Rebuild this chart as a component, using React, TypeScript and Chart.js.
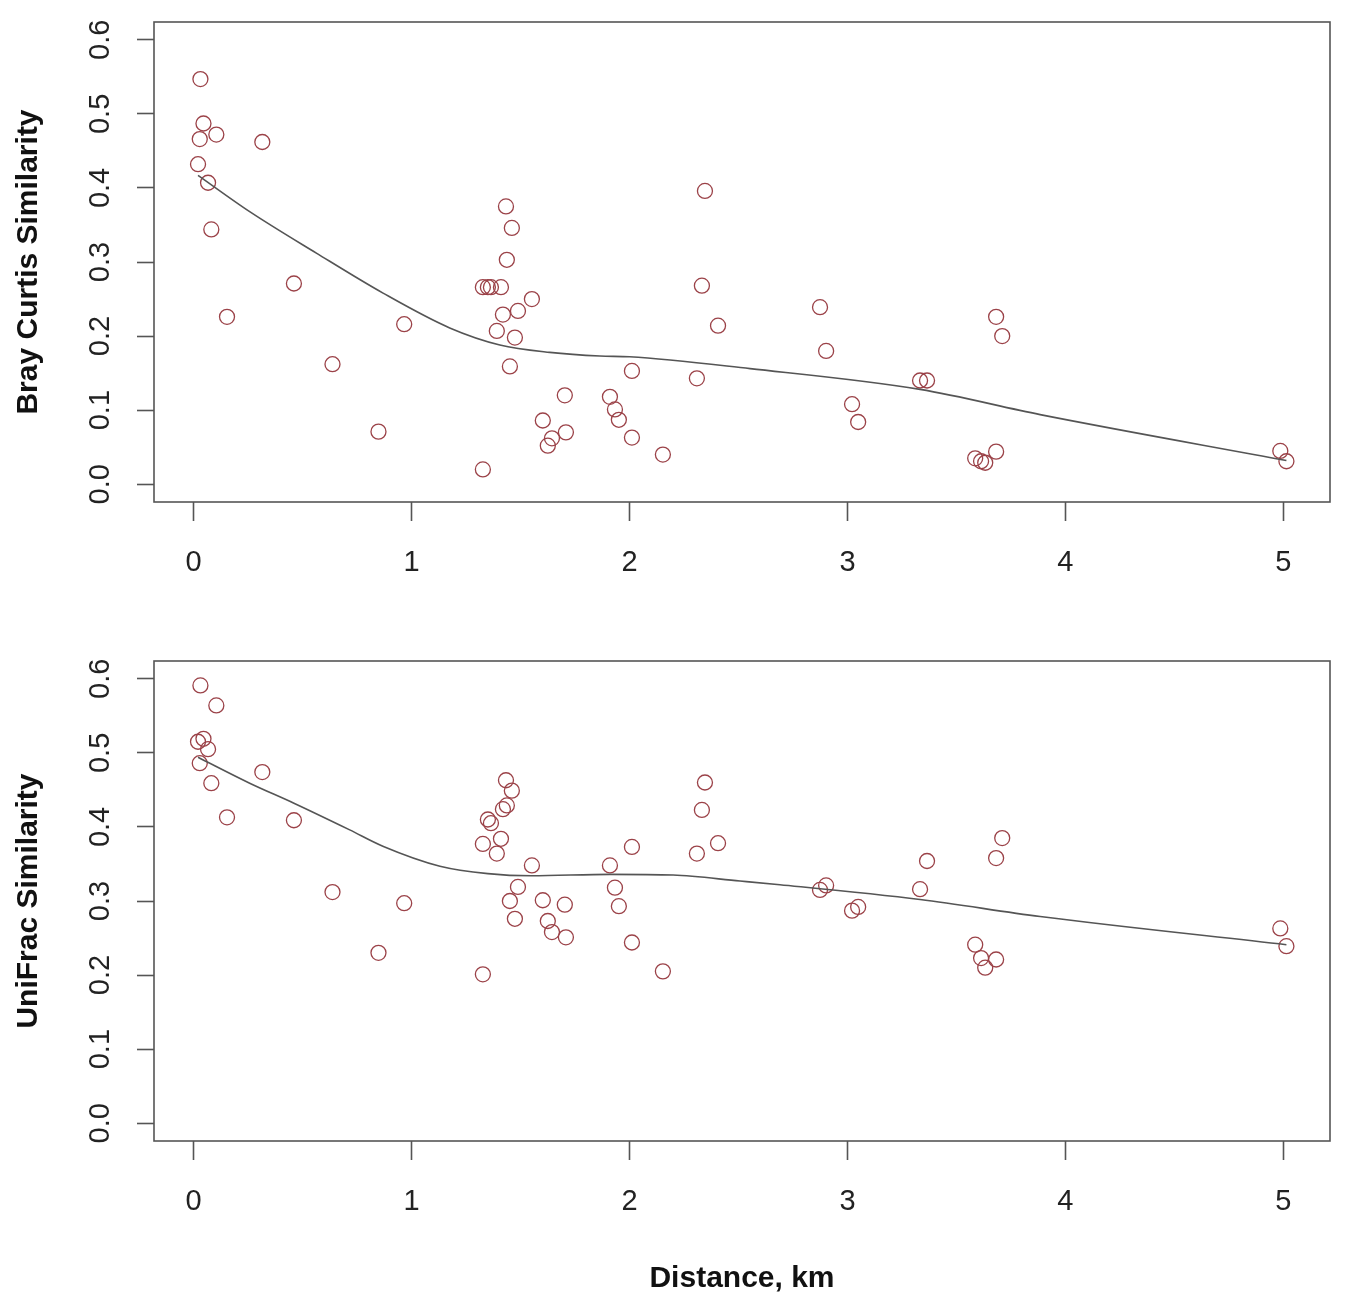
import React, { useEffect, useRef } from "react";
import { Chart, registerables } from "chart.js";

Chart.register(...registerables);

// Pairwise geographic distance (km) for each sample pair
const distanceKm = [
  0.02, 0.028, 0.031, 0.045, 0.066, 0.081, 0.104, 0.153, 0.315, 0.46, 0.637, 0.848, 0.966,
  1.327, 1.327, 1.35, 1.364, 1.41, 1.433, 1.46, 1.437, 1.391, 1.419, 1.488, 1.552, 1.474, 1.451,
  1.602, 1.625, 1.644, 1.703, 1.708,
  1.91, 1.933, 1.951, 2.011, 2.011, 2.153, 2.309, 2.332, 2.346, 2.406,
  2.874, 2.902, 3.021, 3.049, 3.333, 3.365, 3.586, 3.613, 3.632, 3.682, 3.682, 3.71, 4.986, 5.014,
];

// Bray Curtis similarity for each pair
const brayCurtis = [
  0.432, 0.466, 0.547, 0.487, 0.407, 0.344, 0.472, 0.226, 0.462, 0.271, 0.162, 0.071, 0.216,
  0.02, 0.266, 0.266, 0.266, 0.266, 0.375, 0.346, 0.303, 0.207, 0.229, 0.234, 0.25, 0.198, 0.159,
  0.086, 0.052, 0.062, 0.12, 0.07,
  0.118, 0.101, 0.087, 0.153, 0.063, 0.04, 0.143, 0.268, 0.396, 0.214,
  0.239, 0.18, 0.108, 0.084, 0.14, 0.14, 0.035, 0.031, 0.029, 0.044, 0.226, 0.2, 0.045, 0.031,
];

// UniFrac similarity for each pair
const uniFrac = [
  0.515, 0.486, 0.591, 0.519, 0.505, 0.459, 0.564, 0.413, 0.474, 0.409, 0.312, 0.23, 0.297,
  0.201, 0.377, 0.41, 0.405, 0.384, 0.463, 0.449, 0.429, 0.364, 0.424, 0.319, 0.348, 0.276, 0.3,
  0.301, 0.273, 0.258, 0.295, 0.251,
  0.348, 0.318, 0.293, 0.373, 0.244, 0.205, 0.364, 0.423, 0.46, 0.378,
  0.315, 0.321, 0.287, 0.292, 0.316, 0.354, 0.241, 0.223, 0.21, 0.221, 0.358, 0.385, 0.263, 0.239,
];

// Smoothed (loess) trend lines
const brayFitX = [0.02, 0.257, 0.563, 0.869, 1.175, 1.405, 1.634, 1.864, 2.0, 2.553, 3.333, 3.884, 5.014];
const brayFitY = [0.417, 0.368, 0.312, 0.258, 0.211, 0.188, 0.178, 0.173, 0.172, 0.156, 0.128, 0.094, 0.032];

const uniFitX = [0.02, 0.257, 0.46, 0.716, 0.868, 1.13, 1.35, 1.55, 1.91, 2.2, 2.507, 2.69, 3.333, 3.884, 5.014];
const uniFitY = [0.494, 0.459, 0.432, 0.396, 0.374, 0.347, 0.337, 0.334, 0.336, 0.335, 0.327, 0.322, 0.302, 0.279, 0.241];

const xTicks = [0, 1, 2, 3, 4, 5];
const yTicks = [0, 0.1, 0.2, 0.3, 0.4, 0.5, 0.6];

const xRange = [-0.182, 5.214];
const yRange = [-0.024, 0.624];

const FONT = "'Liberation Sans', Arial, Helvetica, sans-serif";
const AXIS_COLOR = "#555555";
const POINT_COLOR = "rgb(155, 66, 72)";
const LINE_COLOR = "#555555";

const boxPlugin = {
  id: "rbox",
  afterDraw(chart: any) {
    const { ctx, chartArea } = chart;
    ctx.save();
    ctx.strokeStyle = AXIS_COLOR;
    ctx.lineWidth = 1.6;
    ctx.strokeRect(
      chartArea.left,
      chartArea.top,
      chartArea.right - chartArea.left,
      chartArea.bottom - chartArea.top
    );
    ctx.restore();
  },
};

function makeConfig(
  yValues: number[],
  fitX: number[],
  fitY: number[],
  yTitle: string,
  xTitle: string | null,
  topPad: number,
  xAxisHeight: number
): any {
  const points = distanceKm.map((d, i) => ({ x: d, y: yValues[i] }));
  const fit = fitX.map((d, i) => ({ x: d, y: fitY[i] }));
  return {
    type: "scatter",
    data: {
      datasets: [
        {
          data: fit,
          showLine: true,
          borderColor: LINE_COLOR,
          borderWidth: 1.6,
          pointRadius: 0,
          fill: false,
          cubicInterpolationMode: "monotone",
          order: 0,
        },
        {
          data: points,
          showLine: false,
          pointStyle: "circle",
          pointRadius: 7.5,
          pointBorderWidth: 1.3,
          pointBorderColor: POINT_COLOR,
          pointBackgroundColor: "rgba(0,0,0,0)",
          order: 1,
        },
      ],
    },
    options: {
      responsive: false,
      animation: false,
      events: [],
      layout: { padding: { top: topPad, right: 20, left: 0, bottom: 0 } },
      plugins: {
        legend: { display: false },
        tooltip: { enabled: false },
        title: { display: false },
      },
      scales: {
        x: {
          type: "linear",
          position: "bottom",
          min: xRange[0],
          max: xRange[1],
          afterBuildTicks: (scale: any) => {
            scale.ticks = xTicks.map((v) => ({ value: v }));
          },
          afterFit: (scale: any) => {
            scale.height = xAxisHeight;
            scale.paddingLeft = 0;
            scale.paddingRight = 0;
          },
          border: { display: false },
          grid: {
            drawOnChartArea: false,
            drawTicks: true,
            tickLength: 19,
            tickColor: AXIS_COLOR,
            tickWidth: 1.6,
          },
          ticks: {
            color: "#222",
            font: { family: FONT, size: 29 },
            padding: 25,
            maxRotation: 0,
            minRotation: 0,
            callback: (v: number) => String(v),
          },
          title: xTitle
            ? {
                display: true,
                text: xTitle,
                color: "#111",
                font: { family: FONT, size: 30, weight: "bold" },
                padding: { top: 0, bottom: 3 },
              }
            : { display: false },
        },
        y: {
          type: "linear",
          position: "left",
          min: yRange[0],
          max: yRange[1],
          afterBuildTicks: (scale: any) => {
            scale.ticks = yTicks.map((v) => ({ value: v }));
          },
          afterFit: (scale: any) => {
            scale.width = 154;
            scale.paddingTop = 0;
            scale.paddingBottom = 0;
          },
          border: { display: false },
          grid: {
            drawOnChartArea: false,
            drawTicks: true,
            tickLength: 17,
            tickColor: AXIS_COLOR,
            tickWidth: 1.6,
          },
          ticks: {
            color: "#222",
            font: { family: FONT, size: 29 },
            padding: 16,
            minRotation: 90,
            maxRotation: 90,
            crossAlign: "center",
            callback: (v: number) => v.toFixed(1),
          },
          title: {
            display: true,
            text: yTitle,
            color: "#111",
            font: { family: FONT, size: 30, weight: "bold" },
            padding: { top: 11, bottom: 0 },
          },
        },
      },
    },
    plugins: [boxPlugin],
  };
}

export default function App() {
  const topRef = useRef<HTMLCanvasElement | null>(null);
  const bottomRef = useRef<HTMLCanvasElement | null>(null);

  useEffect(() => {
    const charts: Chart[] = [];
    if (topRef.current) {
      charts.push(
        new Chart(
          topRef.current,
          makeConfig(brayCurtis, brayFitX, brayFitY, "Bray Curtis Similarity", null, 22, 148)
        )
      );
    }
    if (bottomRef.current) {
      charts.push(
        new Chart(
          bottomRef.current,
          makeConfig(uniFrac, uniFitX, uniFitY, "UniFrac Similarity", "Distance, km", 11, 159)
        )
      );
    }
    return () => {
      charts.forEach((c) => c.destroy());
    };
  }, []);

  return (
    <div
      style={{
        position: "absolute",
        left: 0,
        top: 0,
        width: 1350,
        height: 1300,
        background: "#ffffff",
      }}
    >
      <canvas
        ref={topRef}
        width={1350}
        height={650}
        style={{ position: "absolute", left: 0, top: 0, display: "block" }}
      />
      <canvas
        ref={bottomRef}
        width={1350}
        height={650}
        style={{ position: "absolute", left: 0, top: 650, display: "block" }}
      />
    </div>
  );
}
